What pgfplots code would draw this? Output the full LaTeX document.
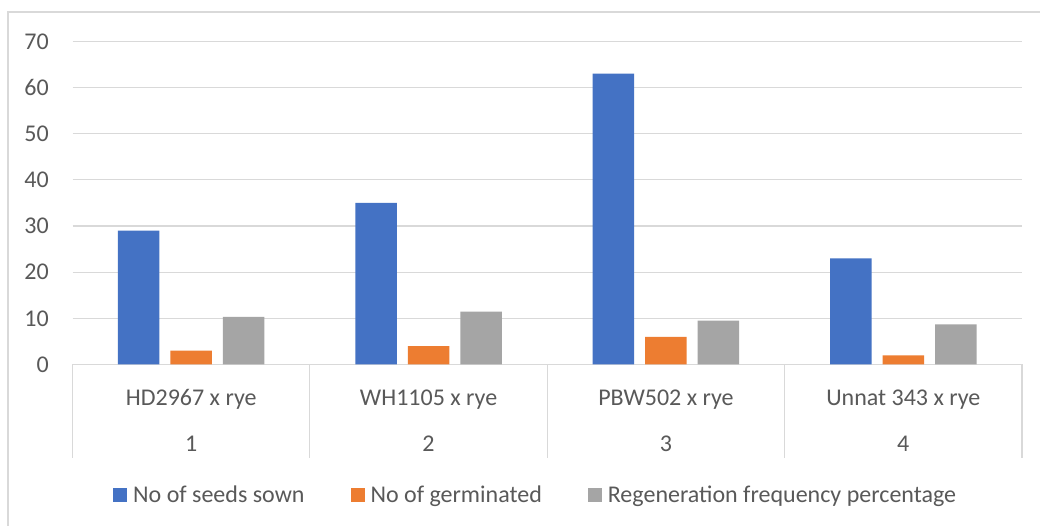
\documentclass[border=0pt]{standalone}
\usepackage{fontspec}
\setmainfont{Carlito}
\usepackage{pgfplots}
\pgfplotsset{compat=1.18}
\definecolor{cblue}{HTML}{4472C4}
\definecolor{corange}{HTML}{ED7D31}
\definecolor{cgray}{HTML}{A5A5A5}
\definecolor{txt}{HTML}{595959}
\definecolor{gridc}{HTML}{D9D9D9}
\begin{document}
\begin{tikzpicture}
\useasboundingbox (0,0) rectangle (1040pt,526pt);
\fill[white] (0,0) rectangle (1040pt,526pt);
\draw[gridc, line width=1.3pt] (8pt,0) -- (8pt,514pt) -- (1040pt,514pt);
\begin{axis}[
  at={(72.5pt,161.5pt)}, anchor=south west,
  scale only axis, width=949.5pt, height=323.2pt,
  xmin=-0.5, xmax=3.5, ymin=0, ymax=70,
  ytick={0,10,...,70},
  xtick={0,1,2,3},
  xticklabels={HD2967 x rye, WH1105 x rye, PBW502 x rye, Unnat 343 x rye},
  extra x ticks={0,1,2,3},
  extra x tick labels={1,2,3,4},
  extra x tick style={grid=none, xticklabel style={yshift=-46pt}},
  ymajorgrids, grid style={gridc, line width=1.2pt},
  axis x line=bottom, axis y line=left,
  axis line style={-},
  y axis line style={draw=none},
  x axis line style={draw=gridc, line width=1.2pt},
  major tick length=0pt,
  clip=false,
  /pgf/number format/assume math mode=true,
  ticklabel style={font=\fontsize{24}{29}\selectfont, text=txt, inner sep=0pt},
  yticklabel style={anchor=east, xshift=-23.5pt},
  xticklabel style={anchor=base, yshift=-41.5pt},
  ybar, bar width=41.5pt,
  legend columns=3,
  legend style={at={(0.04265,-0.4038)}, anchor=west, draw=none, fill=none, inner sep=0pt,
    font=\fontsize{24}{29}\selectfont, text=txt,
    column sep=6pt,
    /tikz/every even column/.append style={column sep=46pt},
    nodes={inner sep=0pt}},
  legend image code/.code={\fill[#1] (0pt,-7pt) rectangle (14pt,7pt);},
]
\addplot[fill=cblue, draw=none, bar shift=-52.5pt] coordinates {(0,29) (1,35) (2,63) (3,23)};
\addplot[fill=corange, draw=none, bar shift=0pt] coordinates {(0,3) (1,4) (2,6) (3,2)};
\addplot[fill=cgray, draw=none, bar shift=52.5pt] coordinates {(0,10.34) (1,11.43) (2,9.52) (3,8.70)};
\legend{No of seeds sown, No of germinated, Regeneration frequency percentage}
\draw[gridc, line width=1.2pt] (axis cs:-0.5,0) -- ([yshift=-93.5pt]axis cs:-0.5,0);
\draw[gridc, line width=1.2pt] (axis cs:0.5,0) -- ([yshift=-93.5pt]axis cs:0.5,0);
\draw[gridc, line width=1.2pt] (axis cs:1.5,0) -- ([yshift=-93.5pt]axis cs:1.5,0);
\draw[gridc, line width=1.2pt] (axis cs:2.5,0) -- ([yshift=-93.5pt]axis cs:2.5,0);
\draw[gridc, line width=1.2pt] (axis cs:3.5,0) -- ([yshift=-93.5pt]axis cs:3.5,0);
\end{axis}
\end{tikzpicture}
\end{document}
